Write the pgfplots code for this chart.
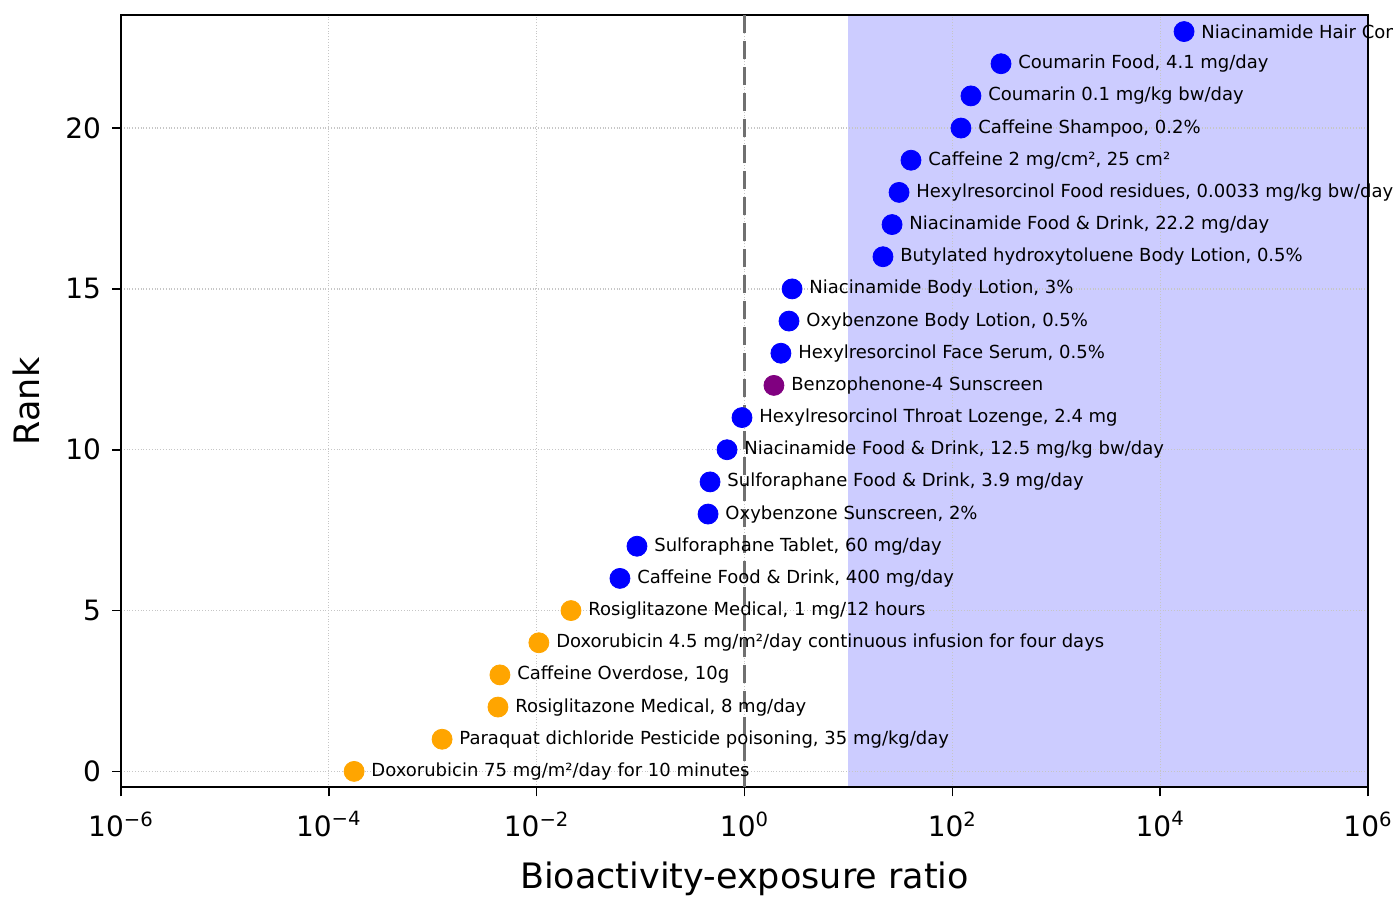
\documentclass[border=0pt]{standalone}
\usepackage{fontspec}
\setmainfont{DejaVu Sans}
\usepackage{pgfplots}
\pgfplotsset{compat=1.18}
\definecolor{ptblue}{HTML}{0000FF}
\definecolor{ptorange}{HTML}{FFA500}
\definecolor{ptpurple}{HTML}{800080}
\definecolor{shade}{HTML}{CCCCFF}
\definecolor{vline}{HTML}{707070}
\pgfplotsset{
  labelled/.style={
    only marks, mark=*, mark size=5pt,
    point meta=explicit symbolic,
    nodes near coords,
    nodes near coords style={anchor=west, xshift=8.5pt, inner sep=0pt,
      font=\fontsize{9}{10}\selectfont, text=black},
  }
}
\begin{document}
\begin{tikzpicture}
\begin{axis}[
  name=ax, set layers,
  scale only axis, width=623.5pt, height=386pt,
  xmode=log, xmin=1e-6, xmax=1e6, ymin=-0.5, ymax=23.5,
  xtick={1e-6,1e-4,1e-2,1,1e2,1e4,1e6},
  xticklabels={10\textsuperscript{−6},10\textsuperscript{−4},10\textsuperscript{−2},10\textsuperscript{0},10\textsuperscript{2},10\textsuperscript{4},10\textsuperscript{6}},
  ytick={0,5,10,15,20}, yticklabels={0,5,10,15,20},
  minor xtick={},
  tick pos=left, tick align=outside, major tick length=4.5pt,
  tick style={black, line width=0.8pt},
  axis line style={line width=1pt},
  grid=major, grid style={densely dotted, gray!45, line width=0.6pt},
  tick label style={font=\fontsize{14}{16}\selectfont},
  xticklabel style={yshift=-4pt},
  yticklabel style={xshift=-2pt},
  label style={font=\fontsize{17.5}{20}\selectfont},
  xlabel={Bioactivity-exposure ratio}, ylabel={Rank},
  xlabel style={yshift=-5.5pt},
  ylabel style={yshift=6pt},
  clip=false,
]
\addplot[fill=shade, draw=none, forget plot, on layer=axis background]
  coordinates {(10,-0.5) (1e6,-0.5) (1e6,23.5) (10,23.5)} -- cycle;
\addplot[vline, line width=1.3pt, dash pattern=on 9pt off 4pt, forget plot]
  coordinates {(1,-0.5) (1,23.5)};
\addplot[labelled, ptorange] coordinates {
  (1.75e-4,0) [Doxorubicin 75 mg/m²/day for 10 minutes]
  (1.23e-3,1) [Paraquat dichloride Pesticide poisoning, 35 mg/kg/day]
  (4.24e-3,2) [Rosiglitazone Medical, 8 mg/day]
  (4.43e-3,3) [Caffeine Overdose, 10g]
  (1.05e-2,4) [Doxorubicin 4.5 mg/m²/day continuous infusion for four days]
  (2.14e-2,5) [Rosiglitazone Medical, 1 mg/12 hours]
};
\addplot[labelled, ptblue] coordinates {
  (0.0633,6) [Caffeine Food \& Drink, 400 mg/day]
  (0.0923,7) [Sulforaphane Tablet, 60 mg/day]
  (0.446,8) [Oxybenzone Sunscreen, 2\%]
  (0.466,9) [Sulforaphane Food \& Drink, 3.9 mg/day]
  (0.679,10) [Niacinamide Food \& Drink, 12.5 mg/kg bw/day]
  (0.946,11) [Hexylresorcinol Throat Lozenge, 2.4 mg]
};
\addplot[labelled, ptpurple] coordinates {
  (1.92,12) [Benzophenone-4 Sunscreen]
};
\addplot[labelled, ptblue] coordinates {
  (2.24,13) [Hexylresorcinol Face Serum, 0.5\%]
  (2.68,14) [Oxybenzone Body Lotion, 0.5\%]
  (2.87,15) [Niacinamide Body Lotion, 3\%]
  (21.5,16) [Butylated hydroxytoluene Body Lotion, 0.5\%]
  (26.3,17) [Niacinamide Food \& Drink, 22.2 mg/day]
  (30.7,18) [Hexylresorcinol Food residues, 0.0033 mg/kg bw/day]
  (40.0,19) [Caffeine 2 mg/cm², 25 cm²]
  (121,20) [Caffeine Shampoo, 0.2\%]
  (151,21) [Coumarin 0.1 mg/kg bw/day]
  (294,22) [Coumarin Food, 4.1 mg/day]
  (16980,23) [Niacinamide Hair Conditioner]
};
\end{axis}
\pgfresetboundingbox
\path[use as bounding box] ([xshift=-60.5pt,yshift=-54.5pt]ax.south west) rectangle ([xshift=12.5pt,yshift=7.75pt]ax.north east);
\end{tikzpicture}
\end{document}
